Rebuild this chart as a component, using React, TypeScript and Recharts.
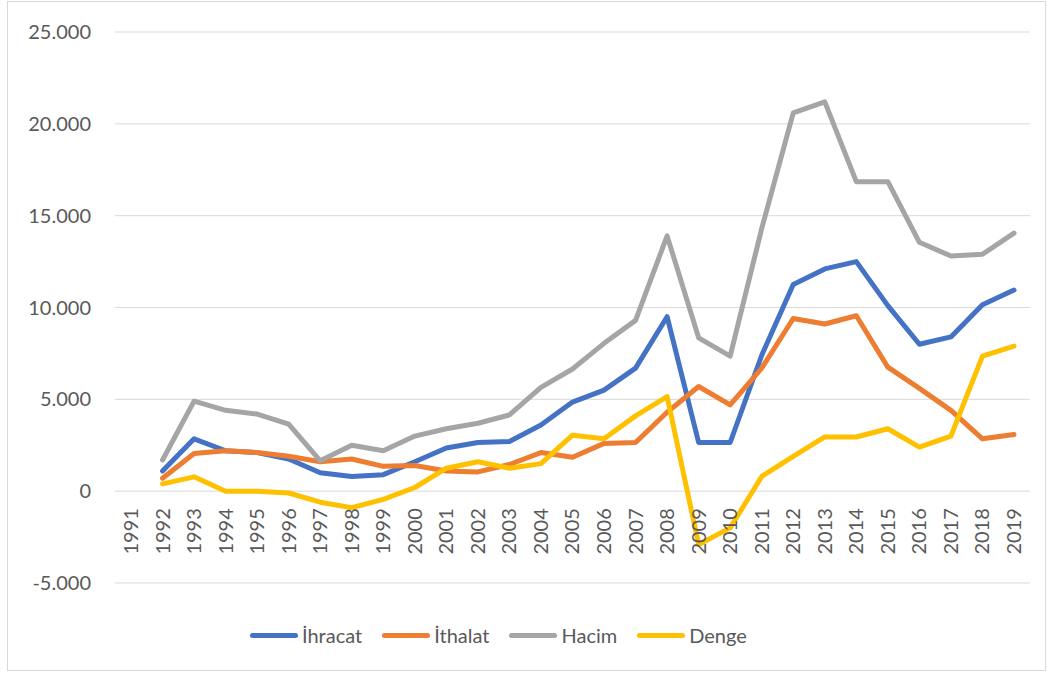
import { CartesianGrid, Legend, Line, LineChart, XAxis, YAxis } from 'recharts';

const years = [
  '1991', '1992', '1993', '1994', '1995', '1996', '1997', '1998', '1999', '2000',
  '2001', '2002', '2003', '2004', '2005', '2006', '2007', '2008', '2009', '2010',
  '2011', '2012', '2013', '2014', '2015', '2016', '2017', '2018', '2019',
];

// 1991 has no value in the source chart
const ihracat = [
  null, 1100, 2850, 2200, 2100, 1750, 1000, 800, 900, 1600,
  2350, 2650, 2700, 3600, 4850, 5500, 6700, 9500, 2650, 2650,
  7400, 11250, 12100, 12500, 10100, 8000, 8400, 10150, 10950,
];
const ithalat = [
  null, 700, 2050, 2200, 2100, 1900, 1600, 1750, 1350, 1400,
  1100, 1050, 1450, 2100, 1850, 2600, 2650, 4300, 5700, 4700,
  6700, 9400, 9100, 9550, 6750, 5600, 4400, 2850, 3080,
];
const hacim = [
  null, 1700, 4900, 4400, 4200, 3650, 1650, 2500, 2200, 3000,
  3400, 3700, 4150, 5650, 6650, 8050, 9300, 13900, 8350, 7350,
  14300, 20600, 21200, 16850, 16850, 13550, 12800, 12900, 14050,
];
const denge = [
  null, 400, 780, 0, 0, -100, -600, -900, -450, 200,
  1250, 1600, 1250, 1500, 3050, 2850, 4100, 5150, -2900, -2000,
  800, 1900, 2950, 2950, 3400, 2400, 3000, 7350, 7900,
];

const yTicks = [-5000, 0, 5000, 10000, 15000, 20000, 25000];

const data = years.map((year, i) => ({
  year,
  ihracat: ihracat[i],
  ithalat: ithalat[i],
  hacim: hacim[i],
  denge: denge[i],
}));

const series = [
  { key: 'ihracat', name: 'İhracat', color: '#4472C4' },
  { key: 'ithalat', name: 'İthalat', color: '#ED7D31' },
  { key: 'hacim', name: 'Hacim', color: '#A5A5A5' },
  { key: 'denge', name: 'Denge', color: '#FFC000' },
];

const W = 1051;
const H = 675;
const TOP = 32;
const PLOT_BOTTOM = 583;
const ZERO_Y = TOP + ((PLOT_BOTTOM - TOP) * 25000) / 30000;
const FONT = 'Lato, "Open Sans", sans-serif';

const fmt = (v: number) => v.toLocaleString('de-DE');

const YearTick = (props: any) => {
  const { x, payload } = props;
  const y = ZERO_Y + 17;
  return (
    <text
      x={x}
      y={y}
      dy="0.35em"
      transform={`rotate(-90 ${x} ${y})`}
      textAnchor="end"
      fill="#595959"
      fontSize={20}
      fontFamily={FONT}
    >
      {payload.value}
    </text>
  );
};

const LegendContent = (props: any) => {
  const order = series.map((s) => s.name);
  const items = [...(props.payload || [])].sort(
    (a: any, b: any) => order.indexOf(a.value) - order.indexOf(b.value),
  );
  return (
    <div style={{ display: 'flex', height: 30, alignItems: 'center', paddingLeft: 250 }}>
      {items.map((it: any) => (
        <div key={it.value} style={{ display: 'flex', alignItems: 'center', marginRight: 20 }}>
          <div style={{ width: 48, height: 5, borderRadius: 3, background: it.color, marginRight: 4 }} />
          <span style={{ fontFamily: FONT, fontSize: 20, color: '#595959' }}>{it.value}</span>
        </div>
      ))}
    </div>
  );
};

export default function App() {
  return (
    <div style={{ position: 'absolute', left: 0, top: 0, width: W, height: H, background: '#fff' }}>
      <div
        style={{
          position: 'absolute',
          left: 7,
          top: 1,
          width: 1039,
          height: 670,
          border: '1px solid #d9d9d9',
          boxSizing: 'border-box',
        }}
      />
      <LineChart
        width={W}
        height={H}
        data={data}
        margin={{ top: TOP, right: 21, bottom: 25, left: 0 }}
        style={{ position: 'absolute', left: 0, top: 0 }}
      >
        <CartesianGrid vertical={false} stroke="#d9d9d9" strokeWidth={1} />
        <XAxis
          dataKey="year"
          interval={0}
          axisLine={false}
          tickLine={false}
          height={37}
          padding={{ left: 16, right: 16 }}
          tick={<YearTick />}
        />
        <YAxis
          domain={[-5000, 25000]}
          ticks={yTicks}
          width={115}
          axisLine={false}
          tickLine={false}
          tickSize={6}
          tickMargin={18}
          tickFormatter={fmt}
          tick={{ fill: '#595959', fontSize: 20, fontFamily: FONT }}
        />
        <Legend verticalAlign="bottom" content={<LegendContent />} />
        {series.map((s) => (
          <Line
            key={s.key}
            type="linear"
            dataKey={s.key}
            name={s.name}
            stroke={s.color}
            strokeWidth={5}
            strokeLinecap="round"
            strokeLinejoin="round"
            dot={false}
            activeDot={false}
            isAnimationActive={false}
            connectNulls={false}
          />
        ))}
      </LineChart>
    </div>
  );
}
